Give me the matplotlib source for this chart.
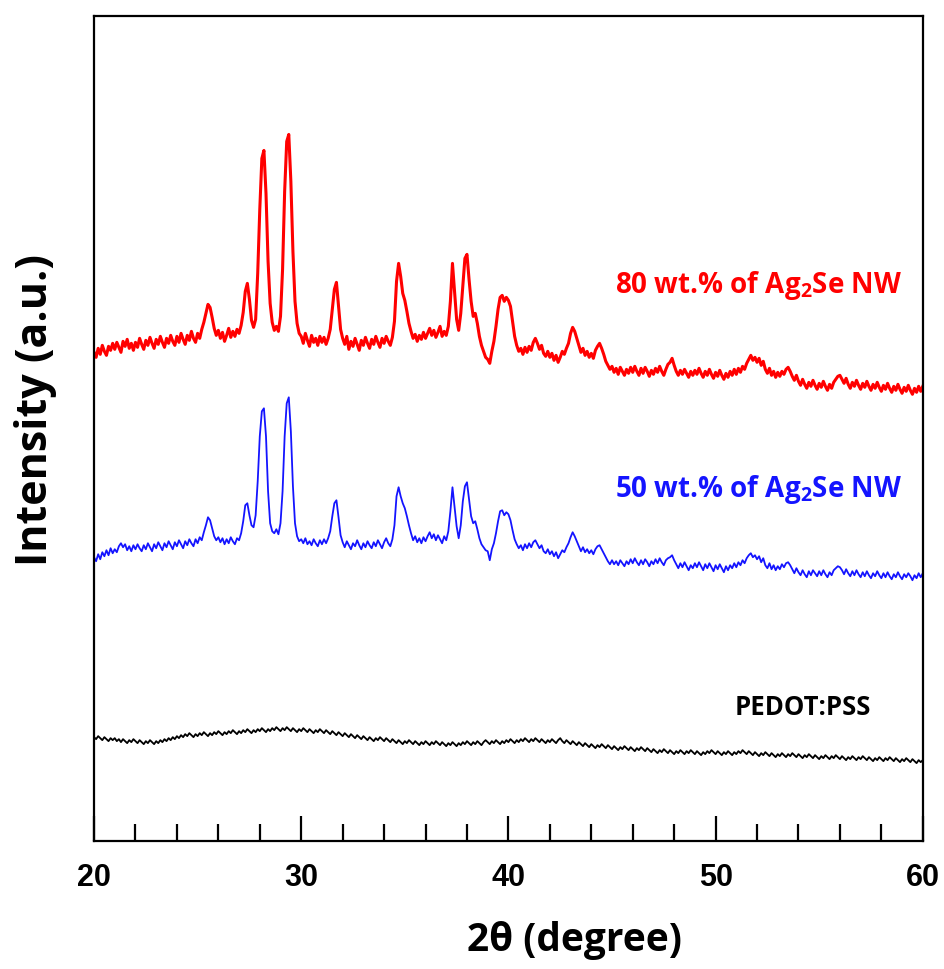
import numpy as np
import matplotlib
matplotlib.use("Agg")
import matplotlib.pyplot as plt
from matplotlib.ticker import MultipleLocator

# 2theta grid, 0.1 degree steps from 20 to 60
two_theta = np.round(np.arange(200, 601) * 0.1, 1)

# 80 wt.% Ag2Se NW (arbitrary units)
i_80 = [
    489, 484, 493, 487, 496, 490, 486, 495, 491, 498,
    492, 499, 494, 489, 500, 495, 502, 493, 498, 491,
    499, 494, 503, 497, 492, 501, 496, 504, 498, 493,
    502, 497, 505, 499, 494, 503, 498, 506, 500, 496,
    505, 499, 508, 502, 497, 506, 501, 510, 503, 499,
    508, 503, 512, 519, 528, 537, 534, 524, 513, 506,
    511, 503, 509, 500, 506, 513, 504, 510, 505, 512,
    508, 516, 529, 550, 558, 542, 521, 514, 522, 568,
    632, 683, 691, 648, 580, 538, 519, 511, 515, 510,
    525, 572, 650, 700, 707, 660, 590, 540, 518, 508,
    505, 498, 508, 501, 495, 506, 499, 503, 496, 505,
    499, 504, 497, 503, 512, 532, 552, 559, 535, 512,
    503, 497, 505, 492, 500, 495, 503, 497, 491, 501,
    496, 504, 498, 493, 502, 497, 505, 499, 494, 503,
    498, 505, 500, 496, 504, 520, 560, 578, 565, 548,
    541, 530, 518, 510, 503, 507, 500, 506, 502, 509,
    503, 508, 513, 506, 511, 504, 509, 515, 505, 510,
    506, 515, 540, 578, 550, 522, 511, 528, 556, 583,
    587, 562, 540, 525, 528, 518, 505, 496, 490, 484,
    482, 478, 490, 500, 515, 532, 544, 546, 540, 544,
    541, 535, 520, 505, 496, 490, 493, 487, 494, 489,
    495, 491, 499, 503, 498, 492, 496, 488, 485, 490,
    484, 488, 481, 486, 479, 484, 490, 487, 493, 498,
    508, 514, 510, 503, 496, 489, 493, 486, 490, 484,
    488, 483, 491, 495, 498, 493, 487, 480, 476, 472,
    475, 469, 473, 467, 474, 470, 466, 472, 468, 474,
    469, 475, 470, 466, 473, 468, 474, 470, 465, 471,
    467, 473, 469, 475, 470, 466, 472, 477, 479, 483,
    476, 470, 466, 471, 467, 472, 468, 464, 470, 466,
    471, 467, 473, 468, 464, 470, 466, 472, 467, 463,
    469, 465, 471, 466, 462, 468, 464, 470, 466, 472,
    467, 473, 469, 475, 472, 478, 482, 486, 481, 484,
    479, 483, 476, 480, 472, 468, 473, 466, 470, 464,
    469, 465, 470, 467, 472, 474, 470, 465, 461, 466,
    460, 456, 462, 457, 453, 459, 455, 461, 456, 452,
    458, 454, 460, 455, 451, 457, 453, 459, 462, 465,
    466, 462, 458, 463, 457, 453, 459, 455, 461, 456,
    452, 458, 454, 460, 455, 451, 457, 453, 459, 454,
    450, 456, 452, 458, 453, 449, 455, 451, 457, 452,
    448, 454, 450, 456, 451, 447, 453, 449, 455, 450,
    455,
]

# 50 wt.% Ag2Se NW
i_50 = [
    284, 280, 287, 282, 289, 285, 291, 286, 293, 288,
    292, 289, 295, 298, 294, 297, 291, 295, 290, 296,
    292, 297, 293, 290, 296, 292, 298, 294, 290, 297,
    293, 299, 295, 291, 298, 294, 300, 296, 292, 299,
    295, 301, 297, 293, 300, 296, 302, 298, 295, 302,
    298, 304, 301, 309, 316, 324, 321, 313, 305, 301,
    304, 299, 303, 297, 302, 298, 304, 300, 297, 303,
    301, 308, 320, 336, 338, 326, 316, 314, 326, 360,
    405, 430, 433, 405, 350, 318, 310, 308, 312, 307,
    318, 350, 405, 438, 444, 410, 355, 318, 305, 300,
    302, 298, 303, 297, 300, 296, 302, 298, 295, 301,
    297, 302, 298, 303, 310, 325, 338, 341, 324, 306,
    299, 294, 300, 296, 292, 298, 295, 301, 296, 292,
    298, 294, 300, 296, 293, 299, 295, 301, 297, 293,
    299, 303, 298, 295, 302, 316, 345, 354, 345, 338,
    333, 325, 316, 308, 301, 305, 299, 303, 298, 304,
    300, 305, 309, 303, 307, 301, 306, 302, 298, 305,
    301, 310, 330, 354, 335, 315, 303, 316, 340, 355,
    359, 342, 325, 318, 320, 312, 303, 297, 294, 291,
    290, 281, 292, 298, 308, 320, 330, 331, 326, 329,
    327, 321, 311, 302, 297, 293, 296, 291, 297, 293,
    298, 294, 299, 301, 297, 293, 296, 290, 288, 292,
    287, 290, 285, 289, 283, 287, 291, 289, 294, 298,
    304, 309, 305, 300, 295, 290, 294, 289, 292, 288,
    291, 287, 292, 295, 296, 292, 288, 284, 280, 277,
    281, 277, 280, 276, 281, 278, 275, 280, 277, 282,
    278, 283, 279, 276, 281, 277, 282, 279, 275, 280,
    277, 282, 278, 283, 279, 276, 281, 283, 284, 286,
    281, 277, 273, 278, 274, 279, 275, 271, 276, 273,
    278, 274, 279, 275, 271, 277, 273, 278, 274, 270,
    276, 272, 277, 273, 269, 275, 271, 276, 273, 278,
    274, 279, 276, 281, 278, 283, 286, 288, 284, 286,
    282, 285, 279, 283, 276, 273, 278, 272, 276, 271,
    275, 272, 277, 274, 278, 279, 276, 272, 268, 273,
    269, 266, 271, 267, 264, 270, 266, 271, 268, 265,
    270, 266, 271, 267, 264, 269, 266, 271, 273, 275,
    274, 271, 267, 272, 268, 265, 270, 266, 271, 267,
    264, 269, 265, 270, 266, 263, 268, 265, 270, 266,
    263, 268, 264, 269, 265, 262, 267, 264, 269, 265,
    262, 267, 264, 268, 265, 261, 266, 263, 268, 264,
    268,
]

# PEDOT:PSS
i_pedot = [
    104, 102, 105, 103, 101, 104, 102, 100, 103, 101,
    103, 100, 102, 99, 102, 100, 98, 101, 99, 102,
    100, 98, 101, 99, 97, 100, 98, 101, 99, 97,
    100, 98, 101, 99, 102, 100, 103, 101, 104, 102,
    105, 103, 106, 104, 107, 105, 108, 106, 104, 107,
    105, 108, 106, 109, 107, 105, 108, 106, 109, 107,
    110, 108, 106, 109, 107, 110, 108, 111, 109, 107,
    110, 108, 111, 109, 112, 110, 108, 111, 109, 112,
    110, 113, 111, 109, 112, 110, 113, 111, 114, 112,
    110, 113, 111, 114, 112, 110, 113, 111, 109, 112,
    110, 113, 111, 109, 112, 110, 108, 111, 109, 112,
    110, 108, 111, 109, 107, 110, 108, 106, 109, 107,
    105, 108, 106, 104, 107, 105, 103, 106, 104, 102,
    105, 103, 101, 104, 102, 100, 103, 101, 104, 102,
    100, 103, 101, 99, 102, 100, 98, 101, 99, 97,
    100, 98, 101, 99, 97, 100, 98, 96, 99, 97,
    100, 98, 96, 99, 97, 100, 98, 96, 99, 97,
    95, 98, 96, 99, 97, 95, 98, 96, 99, 97,
    100, 98, 96, 99, 97, 100, 98, 96, 99, 101,
    99, 97, 100, 98, 101, 99, 97, 100, 98, 101,
    99, 102, 100, 98, 101, 99, 102, 100, 103, 101,
    99, 102, 100, 103, 101, 99, 102, 100, 98, 101,
    99, 102, 100, 98, 101, 103, 100, 98, 101, 99,
    97, 100, 98, 96, 99, 97, 95, 98, 96, 94,
    97, 95, 93, 96, 94, 97, 95, 93, 96, 94,
    92, 95, 93, 91, 94, 92, 95, 93, 91, 94,
    92, 90, 93, 91, 94, 92, 90, 93, 91, 89,
    92, 90, 88, 91, 89, 92, 90, 88, 91, 89,
    87, 90, 88, 91, 89, 87, 90, 88, 91, 89,
    87, 90, 88, 86, 89, 87, 90, 88, 91, 89,
    87, 90, 88, 86, 89, 87, 90, 88, 86, 89,
    87, 90, 88, 91, 89, 87, 90, 88, 86, 89,
    87, 85, 88, 86, 89, 87, 85, 88, 86, 84,
    87, 85, 88, 86, 84, 87, 85, 88, 86, 84,
    87, 85, 83, 86, 84, 87, 85, 83, 86, 84,
    82, 85, 83, 86, 84, 82, 85, 83, 86, 84,
    82, 85, 83, 81, 84, 82, 85, 83, 81, 84,
    82, 85, 83, 81, 84, 82, 80, 83, 81, 84,
    82, 80, 83, 81, 84, 82, 80, 83, 81, 79,
    82, 80, 83, 81, 79, 82, 80, 78, 81, 79,
    81,
]

label_font = ["Open Sans", "DejaVu Sans"]

fig = plt.figure(figsize=(9.45, 9.69), dpi=100)
ax = fig.add_axes([0.0995, 0.132, 0.877, 0.852])

ax.plot(two_theta, i_80, color="#ff0000", lw=2.2)
ax.plot(two_theta, i_50, color="#1414ff", lw=1.3)
ax.plot(two_theta, i_pedot, color="black", lw=1.3)

ax.text(59.0, 556, "80 wt.% of Ag$_\\mathregular{2}$Se NW", color="#ff0000", ha="right", va="center",
        fontsize=20, fontweight="bold", family=label_font)
ax.text(59.0, 352, "50 wt.% of Ag$_\\mathregular{2}$Se NW", color="#1414ff", ha="right", va="center",
        fontsize=20, fontweight="bold", family=label_font)
ax.text(57.5, 134, "PEDOT:PSS", color="black", ha="right", va="center",
        fontsize=18.5, fontweight="bold", family=label_font)

ax.set_xlim(20, 60)
ax.set_ylim(0, 826)
ax.xaxis.set_major_locator(MultipleLocator(10))
ax.xaxis.set_minor_locator(MultipleLocator(2))
ax.tick_params(axis="x", which="major", direction="in", length=18, width=1.6, pad=16)
ax.tick_params(axis="x", which="minor", direction="in", length=12, width=1.6)
ax.set_yticks([])
for lbl in ax.get_xticklabels():
    lbl.set_fontsize(22)
    lbl.set_fontweight("bold")
    lbl.set_family(["Liberation Sans", "DejaVu Sans"])
for sp in ax.spines.values():
    sp.set_linewidth(1.6)

fig.text(574 / 945, 1 - 940 / 969, "2θ (degree)", ha="center", va="center",
         fontsize=28, fontweight="bold", family=label_font)
fig.text(36 / 945, 1 - 410 / 969, "Intensity (a.u.)", ha="center", va="center", rotation=90,
         fontsize=31, fontweight="bold", family=label_font)

fig.savefig("out.png", dpi=100)
